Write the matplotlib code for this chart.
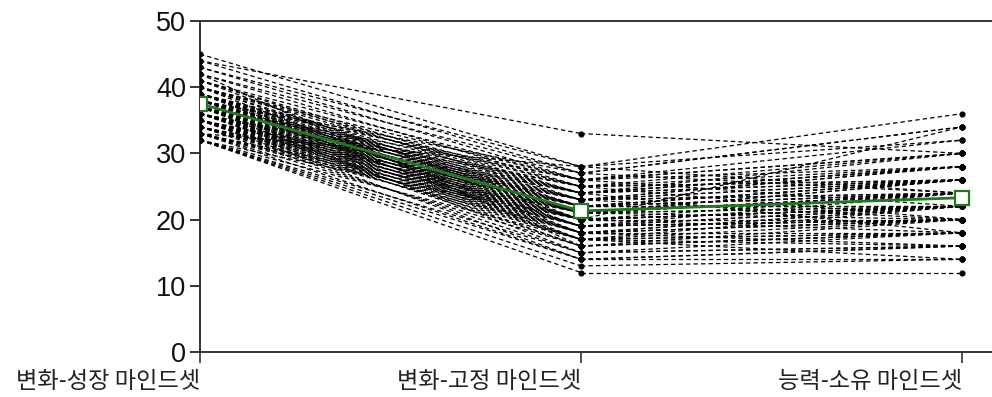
import matplotlib
matplotlib.use('Agg')
import matplotlib.pyplot as plt

# three measurement points
labels = ['변화-성장 마인드셋', '변화-고정 마인드셋', '능력-소유 마인드셋']

# individual scores (one entry per respondent)
t1 = [45, 44, 44, 43, 43, 42, 42, 41, 41, 41, 40, 40, 40, 40, 39, 39, 39, 39, 39, 38,
      38, 38, 38, 38, 38, 38, 37, 37, 37, 37, 37, 37, 37, 37, 36, 36, 36, 36, 36, 36,
      36, 35, 35, 35, 35, 35, 35, 34, 34, 34, 34, 34, 33, 33, 33, 33, 32, 32, 32, 32,
      32, 33, 42, 32, 39, 38, 37, 36, 40, 35, 34, 36, 37, 38, 39, 35, 34, 33, 37, 36,
      38, 35, 34, 39, 33, 36, 41, 40, 37, 35]
t2 = [28, 33, 27, 28, 26, 25, 27, 24, 26, 23, 25, 22, 24, 21, 23, 22, 24, 20, 21, 22,
      23, 20, 21, 19, 24, 22, 21, 20, 22, 19, 23, 21, 18, 24, 20, 22, 19, 21, 17, 23,
      20, 21, 18, 22, 19, 16, 20, 18, 21, 17, 19, 15, 18, 16, 20, 14, 17, 13, 15, 12,
      14, 28, 16, 20, 25, 26, 25, 24, 26, 23, 22, 18, 17, 18, 19, 17, 20, 19, 26, 25,
      27, 24, 23, 17, 21, 16, 20, 18, 15, 14]
t3 = [36, 30, 34, 32, 30, 28, 34, 26, 30, 28, 26, 24, 30, 22, 26, 24, 28, 22, 20, 24,
      26, 22, 24, 20, 28, 22, 24, 22, 26, 20, 24, 22, 18, 26, 24, 22, 20, 26, 18, 24,
      22, 24, 20, 26, 22, 18, 20, 22, 24, 16, 20, 16, 20, 18, 22, 14, 18, 14, 16, 12,
      16, 24, 18, 34, 30, 28, 26, 28, 32, 28, 26, 22, 20, 16, 24, 22, 18, 22, 22, 20,
      24, 18, 20, 14, 26, 20, 22, 20, 18, 16]

# group mean
mean = [37.5, 21.3, 23.3]

plt.rcParams['font.family'] = ['Liberation Sans', 'DejaVu Sans']

fig = plt.figure(figsize=(9.92, 3.97), dpi=100)
ax = fig.add_axes([0.2016, 0.1134, 0.7984, 0.8337])

x = [0, 1, 2]
dash = (0, (3.5, 2.5))
for a, b, c in zip(t1, t2, t3):
    # each segment drawn on its own so the dash phase starts at every time point
    ax.plot(x[0:2], [a, b], color='black', lw=0.9, ls=dash, zorder=2)
    ax.plot(x[1:3], [b, c], color='black', lw=0.9, ls=dash, zorder=2)
    ax.plot(x, [a, b, c], ls='none', marker='o', ms=3.4,
            mec='black', mfc='black', zorder=3)

ax.plot(x, mean, color='#1f7a1f', lw=2, marker='s', ms=10,
        mfc='white', mec='#1f7a1f', mew=1.6, zorder=5)

ax.set_xlim(0, 2.0787)
ax.set_ylim(0, 50)
ax.set_yticks([0, 10, 20, 30, 40, 50])
ax.set_xticks(x)
ax.set_xticklabels(labels, family=['Noto Sans CJK KR', 'DejaVu Sans'],
                   fontsize=16.7, weight='medium', ha='right', color='#222222')
ax.tick_params(axis='y', labelsize=19.5, length=7, width=1.4, direction='out',
               colors='#333333', labelcolor='#111111', pad=3)
ax.tick_params(axis='x', length=8, width=1.2, direction='out', colors='#333333',
               labelcolor='#222222', pad=5)

ax.spines['right'].set_visible(False)
for s in ['left', 'bottom', 'top']:
    ax.spines[s].set_color('#333333')
    ax.spines[s].set_linewidth(1.4)

fig.savefig('out.png', dpi=100)
